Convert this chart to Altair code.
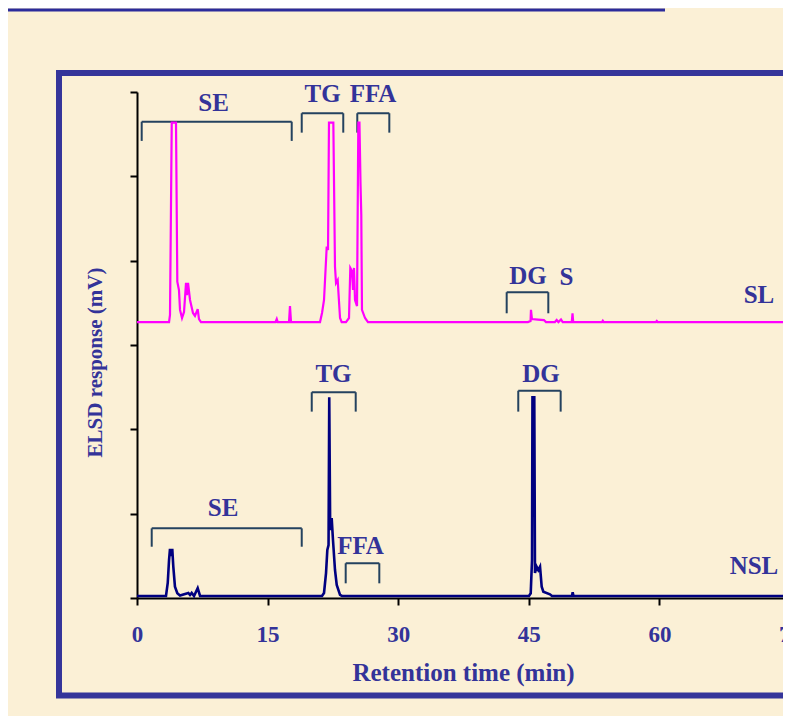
import altair as alt
import pandas as pd

# ---- data (retention time in min, ELSD response in mV) ----
sl_time = [0.0, 3.68, 3.79, 3.99, 4.48, 4.63, 4.82, 4.94, 5.17, 5.40, 5.63, 5.74, 5.86, 6.09, 6.43, 6.66, 6.97, 7.12, 7.35,
           15.90, 16.05, 16.16, 17.46, 17.57, 17.69,
           21.02, 21.25, 21.48, 21.79, 21.94, 22.05, 22.55, 22.74, 22.86, 23.05, 23.14, 23.32, 23.51,
           24.00, 24.35, 24.50, 24.69, 24.81, 24.92, 25.04, 25.27, 25.42, 25.55, 25.67, 25.76, 25.84, 26.19, 26.53,
           44.90, 45.20, 45.25, 45.36, 46.05, 46.74, 46.97, 48.00, 48.20, 48.40, 48.70, 48.90,
           49.94, 50.02, 50.10, 53.40, 53.50, 53.60, 59.60, 59.70, 59.80, 75.0]
sl_resp = [163.6, 163.6, 167.8, 281.8, 281.8, 187.5, 182.6, 170.8, 166.0, 169.6, 186.8, 179.6, 186.8, 176.7, 169.0, 167.2, 171.3, 165.4, 163.6,
           163.6, 165.4, 163.6, 163.6, 173.1, 163.6,
           163.6, 169.0, 176.7, 208.3, 206.3, 281.8, 281.8, 196.4, 186.8, 188.5, 180.8, 166.0, 163.6,
           163.6, 166.0, 195.7, 193.9, 182.6, 195.7, 176.7, 173.1, 281.8, 281.8, 246.1, 227.1, 170.8, 166.0, 163.6,
           163.6, 164.2, 170.8, 165.4, 165.1, 164.8, 163.6, 163.6, 164.8, 163.6, 165.1, 163.6,
           163.6, 168.8, 163.6, 163.6, 164.4, 163.6, 163.6, 164.2, 163.6, 163.6]

nsl_time = [0.0, 3.33, 3.53, 3.68, 3.79, 3.90, 4.05, 4.17, 4.36, 4.63, 4.94, 5.90, 6.09, 6.28, 6.55, 6.97, 7.24,
            21.25, 21.48, 21.71, 21.86, 22.00, 22.08, 22.18, 22.28, 22.36, 22.51, 22.74, 22.94, 23.32, 23.54,
            45.02, 45.22, 45.37, 45.42, 45.63, 45.71, 45.90, 46.09, 46.29, 46.48, 46.67, 47.43, 47.66,
            49.96, 50.04, 50.13, 75.0]
nsl_resp = [1.2, 1.2, 8.9, 22.5, 29.1, 24.9, 29.1, 18.6, 6.7, 2.8, 1.5, 3.0, 1.8, 3.0, 1.2, 5.8, 1.2,
            1.2, 3.0, 14.8, 28.5, 31.4, 119.0, 46.2, 40.3, 47.4, 34.4, 16.6, 7.7, 1.8, 1.2,
            1.2, 2.8, 22.5, 119.0, 119.0, 14.8, 18.6, 16.6, 18.6, 6.7, 3.7, 2.2, 1.2,
            1.2, 3.4, 1.2, 1.2]

# peak-group brackets: start, end (min), top and leg end (mV)
br_start = [0.54, 18.92, 25.30, 42.46, 20.07, 1.69, 23.97, 43.79]
br_end = [17.77, 23.69, 28.98, 47.24, 25.12, 18.92, 27.83, 48.66]
br_top = [282.4, 287.4, 287.4, 181.3, 122.0, 41.3, 20.6, 122.9]
br_leg = [271.0, 275.9, 275.9, 168.8, 110.5, 30.4, 8.7, 110.5]

lab_text = ["SE", "TG", "FFA", "DG", "S", "SL", "TG", "DG", "SE", "FFA", "NSL"]
lab_time = [8.79, 21.31, 27.11, 44.91, 49.33, 71.44, 22.57, 46.40, 9.88, 25.67, 70.86]
lab_resp = [293.5, 298.8, 298.8, 191.2, 190.3, 179.4, 132.8, 132.8, 53.1, 31.1, 19.0]

x_ticks = [0, 15, 30, 45, 60, 75]
y_ticks = [0, 50, 100, 150, 200, 250, 300]

# ---- tables ----
sl = pd.DataFrame({"t": sl_time, "r": sl_resp})
nsl = pd.DataFrame({"t": nsl_time, "r": nsl_resp})
brackets = pd.DataFrame({"a": br_start, "b": br_end, "top": br_top, "leg": br_leg})
labels = pd.DataFrame({"txt": lab_text, "t": lab_time, "r": lab_resp})

TEXT = "#333399"
FONT = "Liberation Serif"
BRK = "#24425F"

# the x axis runs on past the right edge of the page, as in the original
xs = alt.Scale(domain=[0, 75], nice=False, zero=False, range=[0, 653])
ys = alt.Scale(domain=[0, 300], nice=False)

x_axis = alt.Axis(values=x_ticks, title="Retention time (min)", grid=False, labelFlush=False,
                  labelFont=FONT, labelFontWeight="bold", labelFontSize=23, labelColor=TEXT, labelPadding=18,
                  tickColor="black", tickSize=7, tickWidth=2, domainColor="black", domainWidth=2,
                  titleFont=FONT, titleFontWeight="bold", titleFontSize=25, titleColor=TEXT,
                  titleX=326, titleY=74, titleBaseline="middle", titleAlign="center")
y_axis = alt.Axis(values=y_ticks, labels=False, title="ELSD response (mV)", grid=False,
                  tickColor="black", tickSize=7, tickWidth=2, domainColor="black", domainWidth=2,
                  titleFont=FONT, titleFontWeight="bold", titleFontSize=21, titleColor=TEXT,
                  titleX=-42, titleY=270, titleBaseline="middle", titleAlign="center", titleAngle=270)

frame = alt.Chart(pd.DataFrame({"k": [0]})).mark_rect(
    fill=None, filled=False, stroke="#35359A", strokeWidth=6, clip=False
).encode(x=alt.value(-78), x2=alt.value(680), y=alt.value(-19), y2=alt.value(603.5))

topline = alt.Chart(pd.DataFrame({"k": [0]})).mark_rule(
    color="#2B2B9B", strokeWidth=3, clip=False
).encode(x=alt.value(-129), x2=alt.value(528), y=alt.value(-82))

sl_line = alt.Chart(sl).mark_line(strokeWidth=2.2, color="#FF00FF").encode(
    x=alt.X("t:Q", scale=xs, axis=x_axis),
    y=alt.Y("r:Q", scale=ys, axis=y_axis),
)
nsl_line = alt.Chart(nsl).mark_line(strokeWidth=2.6, color="#000080").encode(
    x=alt.X("t:Q", scale=xs),
    y=alt.Y("r:Q", scale=ys),
)

br_h = alt.Chart(brackets).mark_rule(color=BRK, strokeWidth=2).encode(
    x=alt.X("a:Q", scale=xs), x2="b:Q", y=alt.Y("top:Q", scale=ys))
br_l = alt.Chart(brackets).mark_rule(color=BRK, strokeWidth=2).encode(
    x=alt.X("a:Q", scale=xs), y=alt.Y("top:Q", scale=ys), y2="leg:Q")
br_r = alt.Chart(brackets).mark_rule(color=BRK, strokeWidth=2).encode(
    x=alt.X("b:Q", scale=xs), y=alt.Y("top:Q", scale=ys), y2="leg:Q")

texts = alt.Chart(labels).mark_text(font=FONT, fontWeight="bold", fontSize=25, color=TEXT,
                                    align="center", baseline="middle").encode(
    x=alt.X("t:Q", scale=xs), y=alt.Y("r:Q", scale=ys), text="txt:N")

chart = alt.layer(frame, topline, br_h, br_l, br_r, sl_line, nsl_line, texts).properties(
    width=646, height=506,
    autosize=alt.AutoSizeParams(type="none"),
    padding={"left": 129, "top": 84, "right": 0, "bottom": 118},
    background="#FBF0D6",
).configure_view(stroke=None)

chart.save("out.html", embed_options={"renderer": "svg", "actions": False})
